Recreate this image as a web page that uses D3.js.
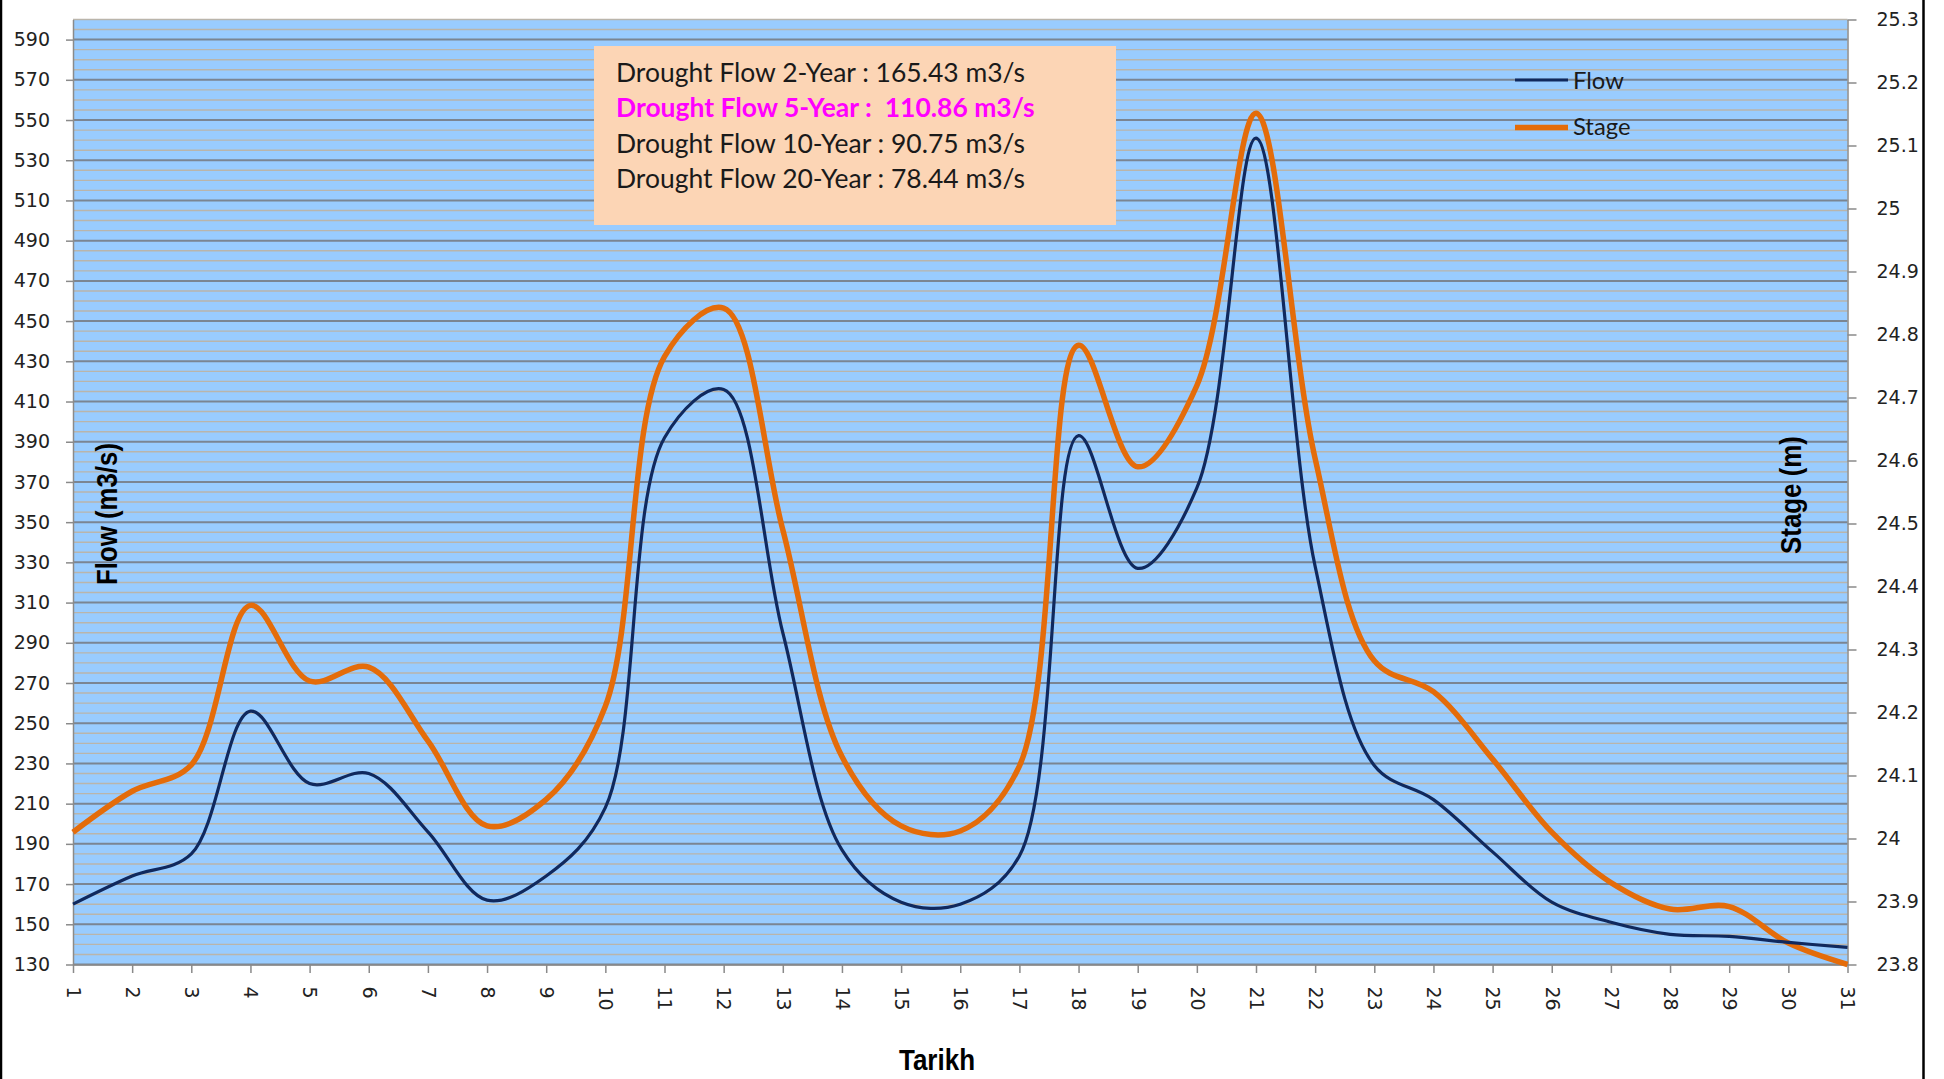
<!DOCTYPE html>
<html>
<head>
<meta charset="utf-8">
<title>Flow &amp; Stage</title>
<script src="https://cdn.jsdelivr.net/npm/d3@7"></script>
<style>
  html, body { margin: 0; padding: 0; background: #fff; }
  svg { display: block; }
  .axis text { font-family: "DejaVu Sans", Tahoma, sans-serif; font-size: 19px; fill: #222; }
  .axis path, .axis line { stroke: #8a8a8a; stroke-width: 1.5; }
  .title { font-family: "Liberation Sans Narrow", "Arial Narrow", "Liberation Sans", sans-serif; font-weight: bold; fill: #000; }
  .note, .legend { font-family: Lato, Calibri, sans-serif; white-space: pre; }
</style>
</head>
<body>
<svg id="chart" width="1944" height="1079"></svg>
<script>
// days of the month (x categories)
const days = [1, 2, 3, 4, 5, 6, 7, 8, 9, 10, 11, 12, 13, 14, 15, 16,
  17, 18, 19, 20, 21, 22, 23, 24, 25, 26, 27, 28, 29, 30, 31];

// Flow (m3/s), left axis
const flow = [160, 174, 185, 256, 220, 225, 196, 162, 174, 208, 392, 416, 295, 187, 161, 160,
  184, 393, 327, 367, 541, 328, 229, 212, 186, 161, 151, 145, 144, 141, 138.5];

// Stage (m), right axis
const stage = [24.01, 24.075, 24.117, 24.37, 24.25, 24.272, 24.155, 24.02, 24.062, 24.21, 24.765,
  24.842, 24.49, 24.13, 24.02, 24.012, 24.115, 24.783, 24.59, 24.719, 25.151, 24.603, 24.282,
  24.233, 24.126, 24.01, 23.93, 23.888, 23.892, 23.834, 23.8];

const flowTicks = [130, 150, 170, 190, 210, 230, 250, 270, 290, 310, 330, 350, 370, 390,
  410, 430, 450, 470, 490, 510, 530, 550, 570, 590];
const stageTicks = [23.8, 23.9, 24, 24.1, 24.2, 24.3, 24.4, 24.5, 24.6, 24.7, 24.8, 24.9,
  25, 25.1, 25.2, 25.3];

const notes = [
  'Drought Flow 2-Year : 165.43 m3/s',
  'Drought Flow 5-Year :  110.86 m3/s',
  'Drought Flow 10-Year : 90.75 m3/s',
  'Drought Flow 20-Year : 78.44 m3/s',
];
const highlightNote = 1;
const seriesNames = ['Flow', 'Stage'];

const colors = { flow: '#10295e', stage: '#e46c0a', plot: '#99ccff', note: '#fcd5b5' };

const svg = d3.select('#chart');
const plot = { left: 73, right: 1847.5, top: 19.5, bottom: 964.5 };

const x = d3.scaleLinear().domain([1, 31]).range([plot.left, plot.right]);
const yFlow = d3.scaleLinear().domain([130, 600]).range([plot.bottom, plot.top]);
const yStage = d3.scaleLinear().domain([23.8, 25.3]).range([plot.bottom, plot.top]);

// frame lines at the outer edges
svg.append('line').attr('x1', 1).attr('x2', 1).attr('y1', 0).attr('y2', 1079)
  .attr('stroke', '#000').attr('stroke-width', 2.5);
svg.append('line').attr('x1', 1923.5).attr('x2', 1923.5).attr('y1', 0).attr('y2', 1079)
  .attr('stroke', '#000').attr('stroke-width', 2.5);

// plot area
svg.append('rect')
  .attr('x', plot.left).attr('y', plot.top)
  .attr('width', plot.right - plot.left).attr('height', plot.bottom - plot.top)
  .attr('fill', colors.plot);

const grid = svg.append('g');
const minor = d3.range(130, 601, 5).filter(v => (v - 130) % 20 !== 0);
grid.selectAll('line.minor')
  .data(minor)
  .join('line')
  .attr('class', 'minor')
  .attr('x1', plot.left).attr('x2', plot.right)
  .attr('y1', d => yFlow(d)).attr('y2', d => yFlow(d))
  .attr('stroke', '#bab5ab').attr('stroke-width', 1.4);
grid.selectAll('line.major')
  .data(flowTicks)
  .join('line')
  .attr('class', 'major')
  .attr('x1', plot.left).attr('x2', plot.right)
  .attr('y1', d => yFlow(d)).attr('y2', d => yFlow(d))
  .attr('stroke', '#7b8592').attr('stroke-width', 2);

// axes
svg.append('g')
  .attr('class', 'axis')
  .attr('transform', `translate(${plot.left},0)`)
  .call(d3.axisLeft(yFlow).tickValues(flowTicks).tickSize(7).tickPadding(16).tickSizeOuter(0));

svg.append('g')
  .attr('class', 'axis')
  .attr('transform', `translate(${plot.right},0)`)
  .call(d3.axisRight(yStage).tickValues(stageTicks).tickSize(9).tickPadding(20).tickSizeOuter(0)
    .tickFormat(d => String(+d.toFixed(1))));

const xAxis = svg.append('g')
  .attr('class', 'axis')
  .attr('transform', `translate(0,${plot.bottom})`)
  .call(d3.axisBottom(x).tickValues(days).tickSize(8.5).tickSizeOuter(0).tickFormat(d3.format('d')));
xAxis.selectAll('.tick text')
  .attr('text-anchor', 'start')
  .attr('y', 0)
  .attr('dy', '0.35em')
  .attr('transform', 'translate(0,22) rotate(90)');

// series (centripetal spline, close to Excel's smoothed line)
const line = yScale => d3.line()
  .x((d, i) => x(days[i]))
  .y(d => yScale(d))
  .curve(d3.curveCatmullRom.alpha(0.5));

svg.append('path')
  .datum(stage)
  .attr('d', line(yStage))
  .attr('fill', 'none')
  .attr('stroke', colors.stage)
  .attr('stroke-width', 5.5)
  .attr('stroke-linejoin', 'round');

svg.append('path')
  .datum(flow)
  .attr('d', line(yFlow))
  .attr('fill', 'none')
  .attr('stroke', colors.flow)
  .attr('stroke-width', 3.2)
  .attr('stroke-linejoin', 'round');

// note box
svg.append('rect')
  .attr('x', 594).attr('y', 46).attr('width', 522).attr('height', 179)
  .attr('fill', colors.note);

const noteText = svg.selectAll('text.note')
  .data(notes)
  .join('text')
  .attr('class', 'note')
  .attr('x', 616)
  .attr('y', (d, i) => 82 + i * 35.3)
  .attr('font-size', 28)
  .attr('font-weight', (d, i) => i === highlightNote ? 'bold' : null)
  .style('fill', (d, i) => i === highlightNote ? '#ff00ff' : '#1a1a1a')
  .text(d => d);

// fit the substitute font to the original text width
const w0 = noteText.nodes()[0].getComputedTextLength();
const noteSize = 28 * 409 / w0;
noteText.attr('font-size', noteSize);

// legend
const legend = svg.append('g');
const legendRows = [
  { name: seriesNames[0], color: colors.flow, width: 3.2, y: 80, ty: 89 },
  { name: seriesNames[1], color: colors.stage, width: 5.5, y: 127.5, ty: 135 },
];
legendRows.forEach(r => {
  legend.append('line')
    .attr('x1', 1515).attr('x2', 1568).attr('y1', r.y).attr('y2', r.y)
    .attr('stroke', r.color).attr('stroke-width', r.width);
  legend.append('text')
    .attr('class', 'legend')
    .attr('x', 1573).attr('y', r.ty)
    .attr('font-size', noteSize * 26 / 28.9)
    .style('fill', '#1a1a1a')
    .text(r.name);
});

// axis titles
const titles = [
  { text: 'Flow (m3/s)', transform: 'translate(117,514) rotate(-90)', len: 142 },
  { text: 'Stage (m)', transform: 'translate(1801,495) rotate(-90)', len: 118 },
  { text: 'Tarikh', transform: 'translate(937,1070)', len: 76 },
];
svg.selectAll('text.title')
  .data(titles)
  .join('text')
  .attr('class', 'title')
  .attr('font-size', 29)
  .attr('text-anchor', 'middle')
  .attr('transform', d => d.transform)
  .attr('textLength', d => d.len)
  .attr('lengthAdjust', 'spacingAndGlyphs')
  .text(d => d.text);
</script>
</body>
</html>
